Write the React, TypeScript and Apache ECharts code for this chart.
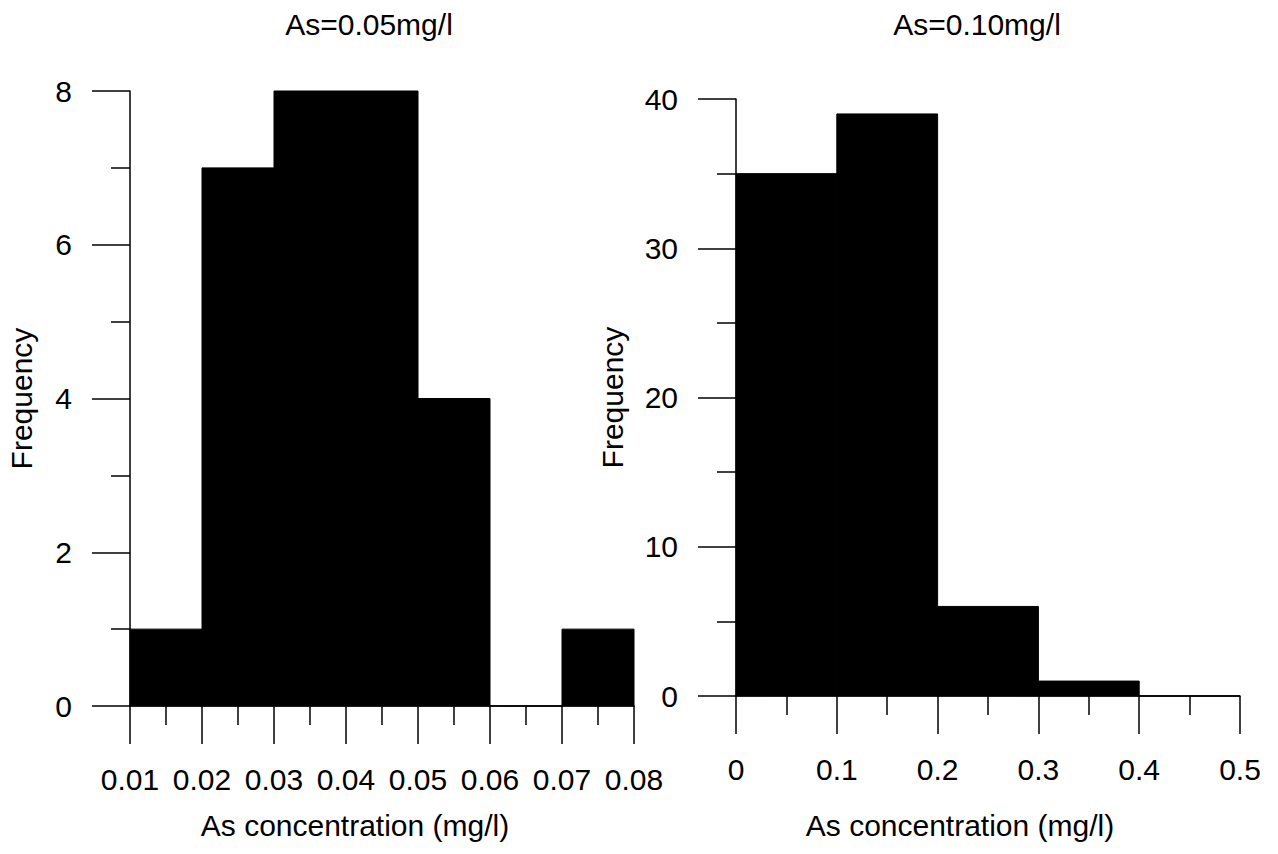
import React, { useEffect, useRef } from "react";
import * as echarts from "echarts";

// Left histogram (As = 0.05 mg/l)
const leftTitle = "As=0.05mg/l";
const leftBinEdges = [0.01, 0.02, 0.03, 0.04, 0.05, 0.06, 0.07, 0.08];
const leftCounts = [1, 7, 8, 8, 4, 0, 1];

// Right histogram (As = 0.10 mg/l)
const rightTitle = "As=0.10mg/l";
const rightBinEdges = [0, 0.1, 0.2, 0.3, 0.4, 0.5];
const rightCounts = [35, 39, 6, 1, 0];

const xAxisName = "As concentration (mg/l)";
const yAxisName = "Frequency";

const FONT = "Liberation Sans, Arial, Helvetica, sans-serif";

function binsToData(edges: number[], counts: number[]) {
  return counts.map((c, i) => [edges[i], edges[i + 1], c]);
}

const renderBin = (params: any, api: any) => {
  const x0 = api.value(0);
  const x1 = api.value(1);
  const y = api.value(2);
  const p0 = api.coord([x0, 0]);
  const p1 = api.coord([x1, y]);
  return {
    type: "rect",
    shape: { x: p0[0], y: p1[1], width: p1[0] - p0[0], height: p0[1] - p1[1] },
    style: { fill: "#000", stroke: "#000", lineWidth: 1 },
  };
};

const lineStyle = { color: "#000", width: 1.5 };

function xAxisOpt(gridIndex: number, min: number, max: number, interval: number, fmt: (v: number) => string) {
  return {
    type: "value",
    gridIndex,
    min,
    max,
    interval,
    axisLine: { show: true, onZero: false, lineStyle },
    axisTick: { show: true, length: 38, inside: false, lineStyle },
    minorTick: { show: true, splitNumber: 2, length: 19, lineStyle },
    splitLine: { show: false },
    minorSplitLine: { show: false },
    axisLabel: {
      show: true,
      margin: 58,
      color: "#000",
      fontSize: 30,
      fontFamily: FONT,
      formatter: fmt,
      showMinLabel: true,
      showMaxLabel: true,
    },
  };
}

function yAxisOpt(gridIndex: number, max: number, interval: number, nameGap: number) {
  return {
    type: "value",
    gridIndex,
    min: 0,
    max,
    interval,
    name: yAxisName,
    nameLocation: "middle",
    nameRotate: 90,
    nameGap,
    nameTextStyle: { color: "#000", fontSize: 30, fontFamily: FONT },
    axisLine: { show: true, lineStyle },
    axisTick: { show: true, length: 38, inside: false, lineStyle },
    minorTick: { show: true, splitNumber: 2, length: 19, lineStyle },
    splitLine: { show: false },
    minorSplitLine: { show: false },
    axisLabel: {
      show: true,
      margin: 58,
      color: "#000",
      fontSize: 30,
      fontFamily: FONT,
    },
  };
}

export default function App() {
  const ref = useRef<HTMLDivElement>(null);

  useEffect(() => {
    if (!ref.current) return;
    const chart = echarts.init(ref.current, null, { renderer: "svg" });
    const textStyle = (text: string) => ({
      text,
      fill: "#000",
      fontSize: 30,
      fontFamily: FONT,
      textAlign: "center",
      textVerticalAlign: "middle",
    });
    chart.setOption({
      animation: false,
      backgroundColor: "#fff",
      grid: [
        { left: 130, top: 91, width: 504, height: 615 },
        { left: 736, top: 99, width: 504, height: 597 },
      ],
      xAxis: [
        xAxisOpt(0, 0.01, 0.08, 0.01, (v: number) => v.toFixed(2)),
        xAxisOpt(1, 0, 0.5, 0.1, (v: number) => (v === 0 ? "0" : v.toFixed(1))),
      ],
      yAxis: [yAxisOpt(0, 8, 2, 94), yAxisOpt(1, 40, 10, 109)],
      series: [
        {
          type: "custom",
          xAxisIndex: 0,
          yAxisIndex: 0,
          renderItem: renderBin,
          encode: { x: [0, 1], y: 2 },
          data: binsToData(leftBinEdges, leftCounts),
          clip: false,
        },
        {
          type: "custom",
          xAxisIndex: 1,
          yAxisIndex: 1,
          renderItem: renderBin,
          encode: { x: [0, 1], y: 2 },
          data: binsToData(rightBinEdges, rightCounts),
          clip: false,
        },
      ],
      graphic: [
        { type: "text", x: 369, y: 24, style: textStyle(leftTitle) },
        { type: "text", x: 977, y: 24, style: textStyle(rightTitle) },
        { type: "text", x: 355, y: 825, style: textStyle(xAxisName) },
        { type: "text", x: 960, y: 825, style: textStyle(xAxisName) },
      ],
    });
    return () => chart.dispose();
  }, []);

  return (
    <div
      ref={ref}
      style={{ position: "fixed", left: 0, top: 0, width: 1278, height: 854, background: "#fff" }}
    />
  );
}
